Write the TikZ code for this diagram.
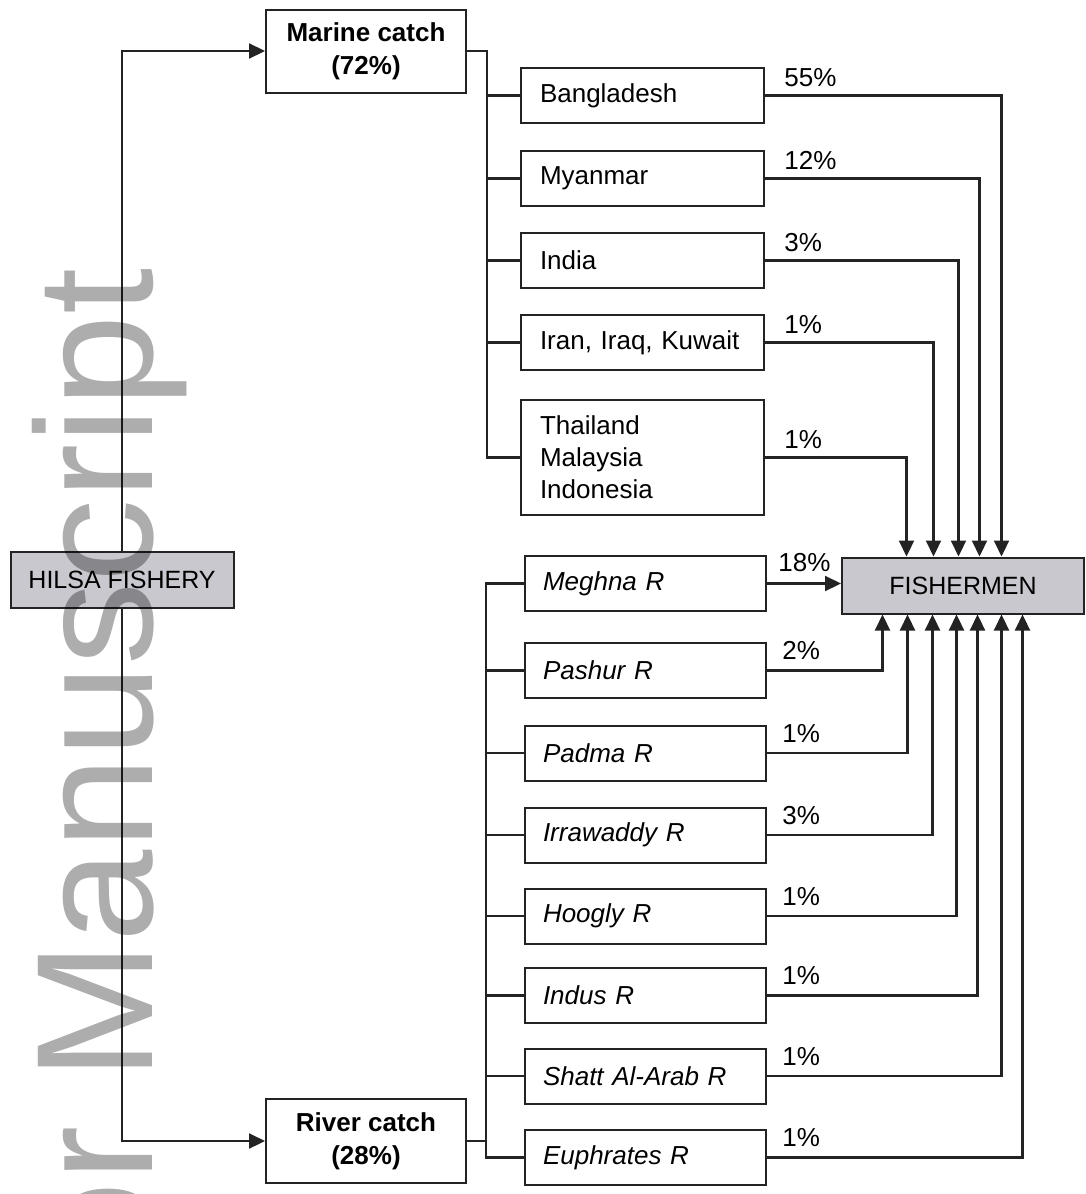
\documentclass[tikz,border=0pt]{standalone}
\usepackage{fontspec}
\setmainfont{Liberation Sans}
\usetikzlibrary{arrows.meta,calc}
\definecolor{grisfond}{RGB}{200,200,206}
\definecolor{trait}{RGB}{35,35,35}
\begin{document}
\begin{tikzpicture}[x=0.5pt,y=-0.5pt]
\tikzset{boite/.style={draw=trait, line width=1pt, fill=white, minimum height=27.5pt, inner xsep=9.5pt, text width=102.5pt, align=left, font=\fontsize{13}{16}\selectfont},
riviere/.style={boite, inner xsep=9pt, font=\fontsize{13}{16}\selectfont\itshape},
prise/.style={draw=trait, line width=1pt, fill=white, minimum width=100pt, minimum height=41.5pt, align=center, font=\bfseries\fontsize{13}{16.5}\selectfont},
grise/.style={draw=trait, line width=1pt, fill=grisfond, minimum height=28pt, font=\fontsize{12.5}{15}\selectfont},
lien/.style={draw=trait, line width=1.1pt},
fleche/.style={lien, -{Triangle[length=8pt,width=7.5pt]}},
etiq/.style={inner sep=0pt, anchor=base west, font=\fontsize{13}{16}\selectfont}}
\clip (0,0) rectangle (1086,1194);
\fill[white] (0,0) rectangle (1086,1194);
\node[grise, minimum width=111.5pt] (hilsa) at (122,580) {HILSA FISHERY};
\node[grise, minimum width=121pt] (fish) at (963,585.5) {FISHERMEN};
\node[prise] (marine) at (366,51) {Marine catch\\(72\%)};
\node[prise, minimum height=42pt] (river) at (366,1141) {River catch\\(28\%)};
% marine catch
\node[boite] (bang) at (642.5,95.5) {Bangladesh};
\node[boite] (myan) at (642.5,178.5) {Myanmar};
\node[boite] (india) at (642.5,260.5) {India};
\node[boite] (iran) at (642.5,342.5) {Iran, Iraq, Kuwait};
\node[boite, minimum height=57.5pt] (thai) at (642.5,457.5) {Thailand\\Malaysia\\Indonesia};
% river catch
\node[riviere] (meghna) at (645.5,583.5) {Meghna R};
\node[riviere] (pashur) at (645.5,670.5) {Pashur R};
\node[riviere] (padma) at (645.5,753) {Padma R};
\node[riviere] (irra) at (645.5,835) {Irrawaddy R};
\node[riviere] (hoogly) at (645.5,916) {Hoogly R};
\node[riviere] (indus) at (645.5,995.5) {Indus R};
\node[riviere] (shatt) at (645.5,1076) {Shatt Al-Arab R};
\node[riviere] (euph) at (645.5,1157.5) {Euphrates R};
\draw[fleche] (hilsa.north) |- (marine.west);
\draw[fleche] (hilsa.south) |- (river.west);
\foreach \n in {bang,myan,india,iran,thai}
  \draw[lien] (marine.east) -- ++(20,0) |- (\n.west);
\foreach \n in {meghna,pashur,padma,irra,hoogly,indus,shatt,euph}
  \draw[lien] (river.east) -- ++(19,0) |- (\n.west);
\foreach \n/\dx/\p in {bang/38.5/55, myan/16.5/12, india/-4.5/3, iran/-29.5/1, thai/-56.5/1} {
  \draw[fleche] (\n.east) -| ($(fish.north)+(\dx,0)$);
  \node[etiq] (p\n) at ($(\n.east)+(19,-9)$) {\p\%};
}
\draw[fleche] (meghna.east) -- (meghna.east -| fish.west);
\node[etiq] (pmeghna) at ($(meghna.east)+(11,-12)$) {18\%};
\foreach \n/\dx/\p in {pashur/-80.5/2, padma/-55.5/1, irra/-30.5/3, hoogly/-6.5/1, indus/14.5/1, shatt/38.5/1, euph/59.5/1} {
  \draw[fleche] (\n.east) -| ($(fish.south)+(\dx,0)$);
  \node[etiq] (p\n) at ($(\n.east)+(15,-11)$) {\p\%};
}
\node[rotate=90, anchor=base east, inner sep=0pt, text=black, text opacity=0.32, font=\fontsize{83}{83}\selectfont] (filigrane) at (152,268) {Author Manuscript};
\end{tikzpicture}
\end{document}
